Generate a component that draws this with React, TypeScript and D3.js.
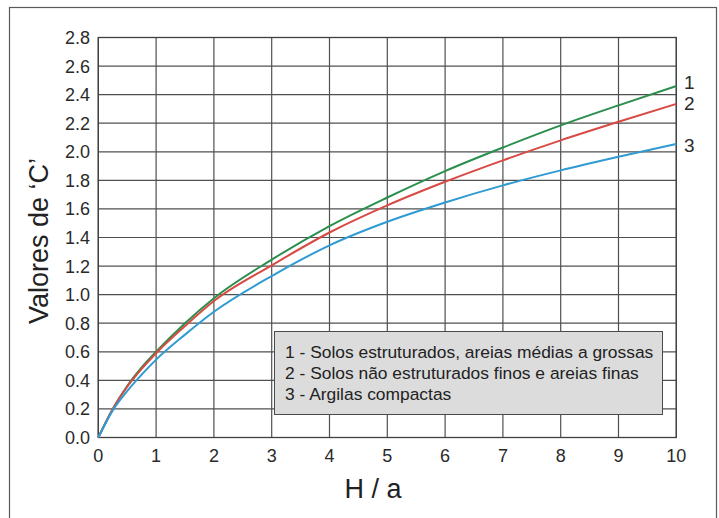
import React from "react";
import * as d3 from "d3";

const hValues = [0, 0.25, 0.5, 0.75, 1, 1.5, 2, 3, 4, 5, 6, 7, 8, 9, 10];
const series1 = [0, 0.2, 0.36, 0.49, 0.6, 0.8, 0.975, 1.245, 1.48, 1.68, 1.865, 2.03, 2.185, 2.325, 2.46];
const series2 = [0, 0.2, 0.355, 0.48, 0.59, 0.78, 0.955, 1.205, 1.435, 1.625, 1.79, 1.94, 2.08, 2.21, 2.335];
const series3 = [0, 0.19, 0.325, 0.44, 0.545, 0.72, 0.88, 1.13, 1.345, 1.51, 1.645, 1.765, 1.87, 1.965, 2.055];
const seriesLabels = ["1", "2", "3"];
const legendLines = [
  "1 - Solos estruturados, areias médias a grossas",
  "2 - Solos não estruturados finos e areias finas",
  "3 - Argilas compactas",
];
const xTicks = [0, 1, 2, 3, 4, 5, 6, 7, 8, 9, 10];
const yTicks = [0, 0.2, 0.4, 0.6, 0.8, 1.0, 1.2, 1.4, 1.6, 1.8, 2.0, 2.2, 2.4, 2.6, 2.8];
const colors = ["#2a8f4c", "#d84a44", "#2f9bd2"];

export default function App() {
  const W = 719, H = 518;
  const x = d3.scaleLinear().domain([0, 10]).range([98.3, 676.3]);
  const y = d3.scaleLinear().domain([0, 2.8]).range([437.5, 37.5]);
  const line = d3
    .line<number>()
    .x((_, i) => x(hValues[i]))
    .y((d) => y(d))
    .curve(d3.curveMonotoneX);
  const all = [series1, series2, series3];
  const labelOffsets = [-3, 0, 2];
  const font = "'Liberation Sans', Arial, sans-serif";
  return (
    <svg width={W} height={H} style={{ position: "absolute", left: 0, top: 0, display: "block", background: "#fff" }} fontFamily={font}>
      <rect x={9.5} y={7.5} width={707} height={530} fill="#fff" stroke="#5a5a5a" strokeWidth={1.2} />
      {xTicks.map((t) => (
        <line key={"gx" + t} x1={x(t)} x2={x(t)} y1={y(0)} y2={y(2.8)} stroke="#505050" strokeWidth={1.2} />
      ))}
      {yTicks.map((t) => (
        <line key={"gy" + t} x1={x(0)} x2={x(10)} y1={y(t)} y2={y(t)} stroke="#505050" strokeWidth={1.2} />
      ))}
      <rect x={x(0)} y={y(2.8)} width={x(10) - x(0)} height={y(0) - y(2.8)} fill="none" stroke="#404040" strokeWidth={1.3} />
      {yTicks.map((t) => (
        <text key={"ty" + t} x={90} y={y(t) + 6.5} textAnchor="end" fontSize={18} fill="#2a2a2a">
          {t.toFixed(1)}
        </text>
      ))}
      {xTicks.map((t) => (
        <text key={"tx" + t} x={x(t)} y={462} textAnchor="middle" fontSize={18} fill="#2a2a2a">
          {t}
        </text>
      ))}
      {all.map((s, i) => (
        <path key={"s" + i} d={line(s) || ""} fill="none" stroke={colors[i]} strokeWidth={2} />
      ))}
      {all.map((s, i) => (
        <text key={"l" + i} x={684} y={y(s[s.length - 1]) + 6 + labelOffsets[i]} fontSize={19} fill="#2a2a2a">
          {seriesLabels[i]}
        </text>
      ))}
      <rect x={274.5} y={331.5} width={388} height={83} fill="#dcdcdc" stroke="#4a4a4a" strokeWidth={1} />
      {legendLines.map((t, i) => (
        <text key={"lg" + i} x={285} y={358 + i * 21} fontSize={17.4} fill="#222">
          {t}
        </text>
      ))}
      <text x={373} y={498} textAnchor="middle" fontSize={27} fill="#222">
        H / a
      </text>
      <text transform="translate(48,241) rotate(-90)" textAnchor="middle" fontSize={27} fill="#222">
        Valores de ‘C’
      </text>
    </svg>
  );
}
